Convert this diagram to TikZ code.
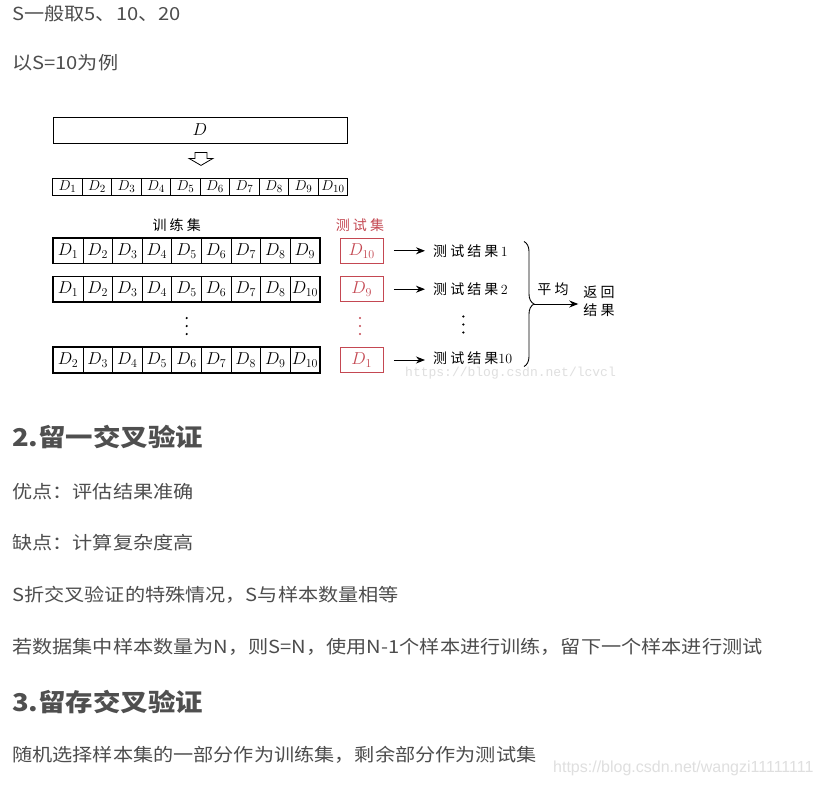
\documentclass[tikz,border=0pt]{standalone}
\usepackage{fontspec}
\usetikzlibrary{arrows.meta,positioning,calc,decorations.pathreplacing}
\newfontfamily\blogfont[FakeStretch=1.12]{Noto Sans CJK SC}
\newfontfamily\figcjk[LetterSpace=22]{Noto Sans CJK SC}
\newfontfamily\markfont{Liberation Mono}
\newfontfamily\urlfont{Liberation Sans}
\definecolor{blogtext}{RGB}{77,77,77}
\definecolor{headtext}{RGB}{79,79,79}
\definecolor{testred}{RGB}{196,72,82}
\tikzset{
  blogline/.style={anchor=west, inner sep=0pt, text=blogtext,
    font=\blogfont\fontsize{18}{22}\selectfont},
  bloghead/.style={blogline, text=headtext,
    font=\blogfont\bfseries\fontsize{24.5}{30}\selectfont},
  foldcell/.style={draw, line width=0.7pt, minimum width=29.5pt, minimum height=17pt,
    inner sep=0pt, font=\fontsize{15}{17}\selectfont},
  traincell/.style={draw, line width=0.7pt, minimum width=29.6pt, minimum height=25pt,
    inner sep=0pt, font=\fontsize{16.5}{18}\selectfont},
  testbox/.style={draw=testred, line width=1.1pt, text=testred, minimum width=43pt,
    minimum height=25pt, inner sep=0pt, font=\fontsize{16.5}{18}\selectfont},
  figlabel/.style={inner sep=0pt, font=\figcjk\fontsize{14}{18}\selectfont},
  resultarrow/.style={-{Stealth[length=9pt, width=7pt]}, line width=0.9pt,
    shorten <=10pt, shorten >=8pt},
  watermark/.style={anchor=west, inner sep=0pt, text=gray!25}
}

\begin{document}
\begin{tikzpicture}[x=1pt, y=-1pt]
    \useasboundingbox[fill=white] (0,0) rectangle (827,787);
    % blog text above the figure
    \node[blogline] (note1) at (12,14) {S一般取5、10、20};
    \node[blogline] (note2) at (12,63) {以S=10为例};
    % whole data set and its split
    \node[draw, line width=0.8pt, minimum width=294pt, minimum height=26pt, inner sep=0pt,
      font=\fontsize{17}{19}\selectfont] (whole) at (200,130) {$D$};
    \coordinate (splittop) at ($(whole.south)+(1,9)$);
    \draw[line width=0.8pt] (splittop) ++(-6,0) -- ++(12,0) -- ++(0,6) -- ++(6,0)
      -- ++(-12,7) -- ++(-12,-7) -- ++(6,0) -- cycle;
    \foreach \i in {1,...,10}
      \node[foldcell] (fold\i) at (52.7+29.5*\i-14.75,186.7) {$D_{\i}$};
    % training rows
    \node[figlabel] (trainlabel) at (176.7,225) {训练集};
    \node[figlabel, text=testred] (testlabel) at (360,225) {测试集};
    \foreach \k [count=\i] in {1,...,9}
      \node[traincell] (rowa\i) at (53.3+29.6*\i-14.8,250.8) {$D_{\k}$};
    \foreach \k [count=\i] in {1,...,8,10}
      \node[traincell] (rowb\i) at (53.3+29.6*\i-14.8,289.2) {$D_{\k}$};
    \foreach \k [count=\i] in {2,...,10}
      \node[traincell] (rowc\i) at (53.3+29.6*\i-14.8,360) {$D_{\k}$};
    \draw[line width=1.5pt] (rowa1.north west) rectangle (rowa9.south east);
    \draw[line width=1.5pt] (rowb1.north west) rectangle (rowb9.south east);
    \draw[line width=1.5pt] (rowc1.north west) rectangle (rowc9.south east);
    % held-out folds
    \node[testbox] (testa) at (361.7,250.8) {$D_{10}$};
    \node[testbox] (testb) at (361.7,289.2) {$D_{9}$};
    \node[testbox] (testc) at (361.7,360) {$D_{1}$};
    \node[figlabel, anchor=west] (resa) at (433,250.8) {测试结果\,\rmfamily 1};
    \node[figlabel, anchor=west] (resb) at (433,289.2) {测试结果\,\rmfamily 2};
    \node[figlabel, anchor=west] (resc) at (433,358) {测试结果\rmfamily 10};
    \draw[resultarrow] (testa) -- (resa);
    \draw[resultarrow] (testb) -- (resb);
    \draw[resultarrow] (testc.east) -- (testc.east -| resc.west);
    \foreach \y in {318,326,334} {
      \fill (186.7,\y) circle (1.2);
      \fill[testred] (360,\y) circle (1.2);
      \fill (463.3,\y-1.5) circle (1.2);
    }
    % average over the ten results
    \coordinate (bracetop) at (524,241.5);
    \coordinate (bracebot) at (524,366.5);
    \draw[line width=0.9pt, decorate, decoration={brace, amplitude=10pt}] (bracetop) -- (bracebot);
    \coordinate (bracetip) at ($(bracetop)!0.5!(bracebot)+(10,0)$);
    \node[figlabel, align=center] (ret) at (599,301) {返回\\结果};
    \node[figlabel] (avg) at (553,289) {平均};
    \draw[resultarrow, shorten <=0pt, shorten >=5pt] (bracetip) -- (bracetip -| ret.west);
    \node[watermark, font=\markfont\fontsize{13}{15}\selectfont] (mark1) at (405,373) {https://blog.csdn.net/lcvcl};
    % blog text below the figure
    \node[bloghead] (head2) at (12,437) {2.留一交叉验证};
    \node[blogline] (note3) at (12,492) {优点：评估结果准确};
    \node[blogline] (note4) at (12,543) {缺点：计算复杂度高};
    \node[blogline] (note5) at (12,595) {S折交叉验证的特殊情况，S与样本数量相等};
    \node[blogline] (note6) at (12,647) {若数据集中样本数量为N，则S=N，使用N-1个样本进行训练，留下一个样本进行测试};
    \node[bloghead] (head3) at (12,702) {3.留存交叉验证};
    \node[blogline] (note7) at (12,755) {随机选择样本集的一部分作为训练集，剩余部分作为测试集};
    \node[watermark, font=\urlfont\fontsize{16}{18}\selectfont] (mark2) at (553,768) {https://blog.csdn.net/wangzi11111111};
  \end{tikzpicture}
\end{document}
